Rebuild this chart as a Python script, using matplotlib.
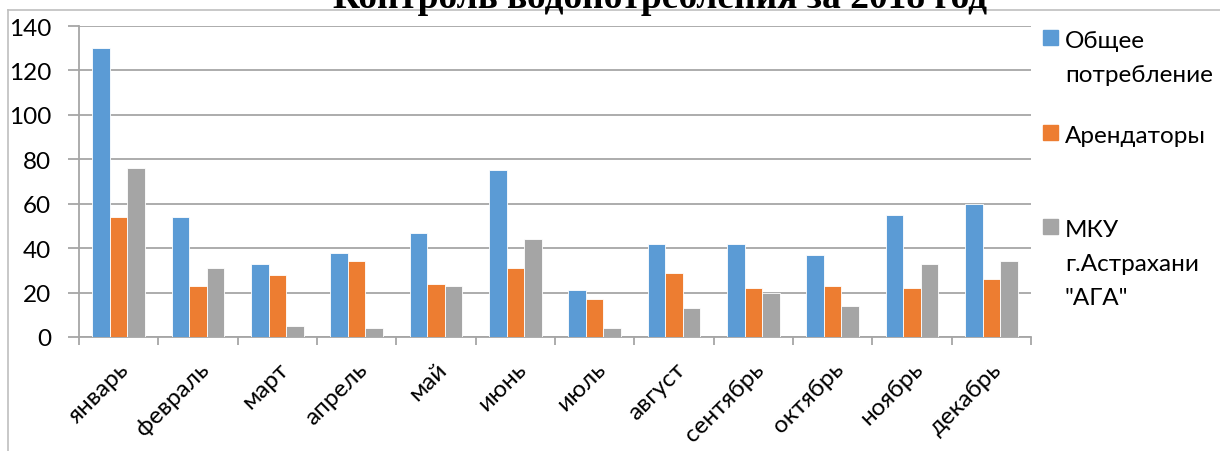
#import
import matplotlib.pyplot as plt
from matplotlib.lines import Line2D
from matplotlib.patches import Rectangle
import numpy as np

#-------------------------------------------------------------------------------

#data
months = ["январь", "февраль", "март", "апрель", "май", "июнь",
          "июль", "август", "сентябрь", "октябрь", "ноябрь", "декабрь"]

total = [130, 54, 33, 38, 47, 75, 21, 42, 42, 37, 55, 60]
tenants = [54, 23, 28, 34, 24, 31, 17, 29, 22, 23, 22, 26]
mku = [76, 31, 5, 4, 23, 44, 4, 13, 20, 14, 33, 34]

series_names = ["Общее\nпотребление", "Арендаторы", "МКУ\nг.Астрахани\n\"АГА\""]
colors = ["#5B9BD5", "#ED7D31", "#A5A5A5"]

title = "Контроль водопотребления за 2018 год"

#-------------------------------------------------------------------------------

#graphics settings
plt.rcParams['font.family'] = ['Lato', 'DejaVu Sans']
grid_color = "#A6A6A6"
font_size = 17.5

fig = plt.figure(figsize=(12.2, 4.52), dpi=100)
W, H = 1220, 452
ax = fig.add_axes([79 / W, (H - 338) / H, (1031 - 79) / W, (338 - 27) / H])

#-------------------------------------------------------------------------------

#bars
x = np.arange(len(months))
w = 1 / 4.5
for j, values in enumerate([total, tenants, mku]):
    ax.bar(x + (j - 1) * w, values, width=w, color=colors[j],
           edgecolor="white", linewidth=0.6, zorder=3)

#axes
ax.set_xlim(-0.5, len(months) - 0.5)
ax.set_ylim(0, 140)
ax.set_yticks(range(0, 141, 20))
ax.grid(axis='y', color=grid_color, linewidth=1.3, zorder=0)
ax.tick_params(axis='y', length=8, width=1.3, color=grid_color, pad=12,
               labelsize=font_size)

ax.set_xticks(x)
ax.set_xticklabels(months, rotation=45, ha='right', va='top',
                   rotation_mode='anchor', fontsize=font_size)
ax.set_xticks(np.arange(-0.5, len(months)), minor=True)
ax.tick_params(axis='x', which='major', length=0, pad=15)
ax.tick_params(axis='x', which='minor', length=6, width=1.3, color=grid_color)

for side in ['top', 'right']:
    ax.spines[side].set_visible(False)
for side in ['left', 'bottom']:
    ax.spines[side].set_color(grid_color)
    ax.spines[side].set_linewidth(1.3)

#-------------------------------------------------------------------------------

#legend: square next to the first line, one text per line
legend_y = [48, 143, 237]
line_step = 34
for name, c, ly in zip(series_names, colors, legend_y):
    fig.patches.append(Rectangle((1043 / W, (H - ly + 2) / H), 15 / W, 15 / H,
                                 transform=fig.transFigure, color=c))
    for k, line in enumerate(name.split("\n")):
        fig.text(1065 / W, (H - ly - k * line_step) / H, line,
                 fontsize=font_size, va='baseline', transform=fig.transFigure)

#frame and title
fig.lines.append(Line2D([8 / W, 8 / W], [0, (H - 11) / H], color="#BFBFBF",
                        linewidth=1.2, transform=fig.transFigure))
fig.lines.append(Line2D([8 / W, 1], [(H - 11) / H, (H - 11) / H], color="#BFBFBF",
                        linewidth=1.2, transform=fig.transFigure))
fig.text(660 / W, (H - 8) / H, title, fontsize=27, fontweight='bold',
         family='Liberation Serif', ha='center', va='baseline')

#-------------------------------------------------------------------------------

#display
plt.savefig('out.png', dpi=100)
